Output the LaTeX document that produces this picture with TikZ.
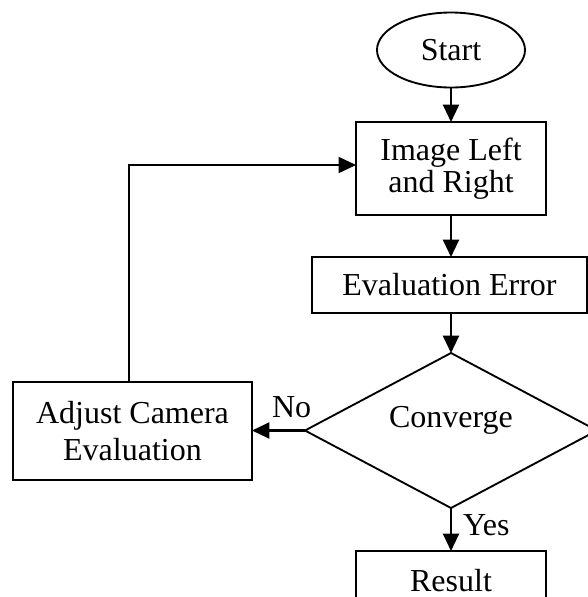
\documentclass[tikz,border=0pt]{standalone}
\usepackage{fontspec}
\setmainfont{Liberation Serif}
\usetikzlibrary{shapes.geometric,arrows.meta}
\begin{document}
\begin{tikzpicture}[x=0.75pt,y=-0.75pt,
  every node/.style={font=\fontsize{24}{24}\selectfont, inner sep=0pt, outer sep=0pt},
  boxnode/.style={draw, line width=1.4pt, rectangle, align=center},
  flow/.style={line width=1.6pt, -{Triangle[length=13pt,width=12pt]}},
  back/.style={line width=1.3pt, -{Triangle[length=13pt,width=12pt]}}]
\useasboundingbox (0,0) rectangle (588,597);
\clip (0,0) rectangle (588,597);
\node[draw, line width=1.4pt, ellipse, minimum width=111pt, minimum height=56.25pt] (start) at (451,50) {Start};
\node[boxnode, minimum width=142.5pt, minimum height=69.75pt] (img) at (451,168.5) {Image Left\\and Right};
\node[boxnode, minimum width=206.25pt, minimum height=42pt] (eval) at (449.5,285) {Evaluation Error};
\node[draw, line width=1.4pt, diamond, minimum width=219pt, minimum height=116.25pt] (conv) at (451,430.5) {};
\node[anchor=base] (convt) at (451,427) {Converge};
\node[boxnode, minimum width=179.25pt, minimum height=73.5pt, font=\fontsize{24}{28}\selectfont] (adj) at (132.5,431) {Adjust Camera\\Evaluation};
\node[boxnode, minimum width=142.5pt, minimum height=44.25pt] (res) at (451,580.5) {Result};
\node[anchor=base west] (no) at (272,417) {No};
\node[anchor=base west] (yes) at (463,535) {Yes};
\coordinate (fb) at (129,165);
\draw[flow] (start) -- (img);
\draw[flow] (img) -- (img.south |- eval.north);
\draw[flow] (eval.south -| conv.north) -- (conv.north);
\draw[flow] (conv.west) -- (adj.east |- conv.west);
\draw[flow] (conv.south) -- (res.north);
\draw[back] (fb |- adj.north) -- (fb) -- (fb -| img.west);
\end{tikzpicture}
\end{document}
